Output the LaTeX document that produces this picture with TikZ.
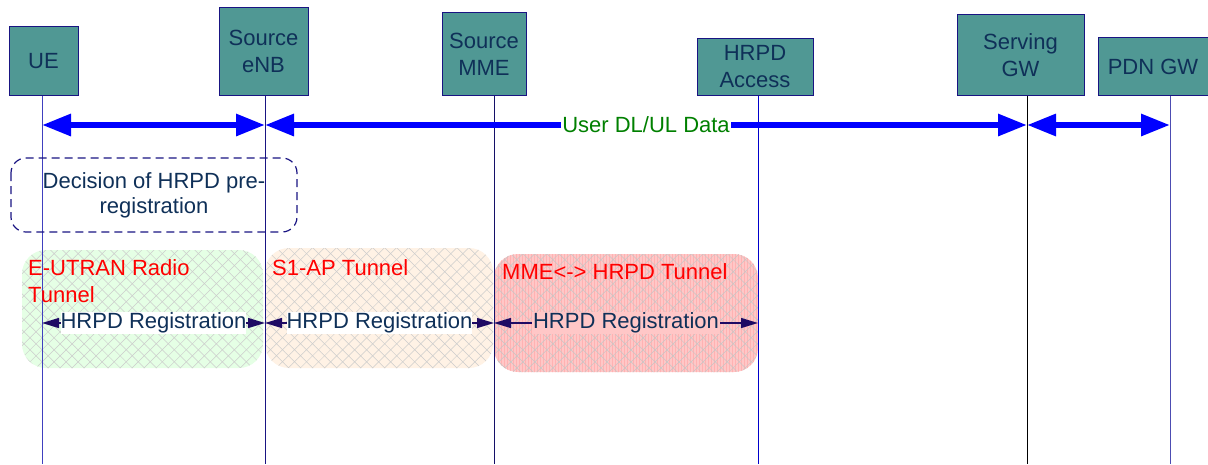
\documentclass[tikz,border=0pt]{standalone}
\usepackage{fontspec}
\setmainfont{Liberation Sans}
\usepackage{xcolor}
\usetikzlibrary{positioning,arrows.meta,patterns.meta,calc}

\definecolor{boxfill}{RGB}{80,152,148}
\definecolor{boxtext}{RGB}{15,48,88}
\definecolor{navy}{RGB}{25,20,130}
\definecolor{regline}{RGB}{30,10,100}
\definecolor{datagreen}{RGB}{0,128,0}

\tikzset{
  entity/.style={draw=navy, line width=1pt, fill=boxfill, text=boxtext, align=center,
                 font=\fontsize{22}{27}\selectfont, anchor=south, inner sep=0pt},
  datalink/.style={blue, line width=6pt, {Triangle[length=29pt,width=21pt]}-{Triangle[length=29pt,width=21pt]}},
  reglink/.style={regline, line width=1.3pt, {Triangle[length=17pt,width=10pt]}-{Triangle[length=17pt,width=10pt]}},
  tunnel/.style={rounded corners=24pt},
  tunnelname/.style={text=red, font=\fontsize{22}{27}\selectfont, anchor=base west, align=left, inner sep=0pt},
  reglabel/.style={text=boxtext, font=\fontsize{22}{27}\selectfont, inner xsep=0pt, inner ysep=1pt}
}

\begin{document}
\begin{tikzpicture}[x=1pt,y=-1pt]
\useasboundingbox (0,0) rectangle (1208,464);

%Entities
\node[entity, minimum width=69pt, minimum height=69pt] (ue)   at (43.5,96)  {UE};
\node[entity, minimum width=89pt, minimum height=88pt] (enb)  at (263.5,96) {Source\\eNB};
\node[entity, minimum width=84pt, minimum height=83pt] (mme)  at (484,96)   {Source\\MME};
\node[entity, minimum width=116pt, minimum height=57pt] (hrpd) at (755,96)  {HRPD\\Access};
\node[entity, minimum width=127pt, minimum height=81pt] (sgw)  at (1020.5,96) {Serving\\GW};
\node[entity, minimum width=110pt, minimum height=58pt] (pdn)  at (1153,96) {PDN GW};

%Lifeline points
\foreach \n/\x in {ue/42,enb/265,mme/494,hrpd/758,sgw/1027,pdn/1170}
{
	\coordinate (\n-top)  at (\x,96);
	\coordinate (\n-data) at (\x,125);
	\coordinate (\n-reg)  at (\x,323);
	\coordinate (\n-bot)  at (\x,464);
}

%Tunnels
\fill[green!10, tunnel] (22,250) rectangle (263,368);
\fill[orange!10, tunnel] (265,248) rectangle (493,368);
\fill[red!22, tunnel] (494,254) rectangle (758,372);
\fill[pattern={Lines[angle=90,distance=3pt,line width=0.4pt]}, pattern color=red!30, tunnel] (494,254) rectangle (758,372);
\foreach \a in {45,-45}
{
	\fill[pattern={Lines[angle=\a,distance=8.5pt,line width=0.5pt]}, pattern color=gray!40, tunnel] (22,250) rectangle (263,368);
	\fill[pattern={Lines[angle=\a,distance=8.5pt,line width=0.5pt]}, pattern color=gray!40, tunnel] (265,248) rectangle (493,368);
	\fill[pattern={Lines[angle=\a,distance=8.5pt,line width=0.5pt]}, pattern color=gray!45, tunnel] (494,254) rectangle (758,372);
}

%Lifelines
\draw[color=blue!50!gray, line width=1pt] (ue-top) -- (ue-bot);
\draw[color=navy, line width=0.8pt] (enb-top) -- (enb-bot);
\draw[color=navy!80!black, line width=1pt] (mme-top) -- (mme-bot);
\draw[color=blue!80!black, line width=0.8pt] (hrpd-top) -- (hrpd-bot);
\draw[color=black, line width=0.8pt] (sgw-top) -- (sgw-bot);
\draw[color=blue!40!gray, line width=1pt] (pdn-top) -- (pdn-bot);

%User data
\draw[datalink] (ue-data) -- (enb-data);
\draw[datalink] (enb-data) -- node[fill=white, text=datagreen, font=\fontsize{22}{27}\selectfont, inner sep=1pt] (datalabel) {User DL/UL Data} (sgw-data);
\draw[datalink] (sgw-data) -- (pdn-data);

%Decision
\draw[navy, line width=1.2pt, dash pattern=on 8pt off 5pt, rounded corners=15pt] (11,158) rectangle (297,232);
\node[text=boxtext, align=center, font=\fontsize{22}{25}\selectfont] (decision) at (154,195) {Decision of HRPD pre-\\registration};

%Tunnel names
\node[tunnelname] (radio) at (28,302) {E-UTRAN Radio\\Tunnel};
\node[tunnelname] (sone) at (272,275) {S1-AP Tunnel};
\node[tunnelname] (mmetun) at (502,279) {MME<-> HRPD Tunnel};

%HRPD registration
\draw[reglink] (ue-reg) -- node[reglabel, fill=white] (regone) {HRPD Registration} (enb-reg);
\draw[reglink] (enb-reg) -- node[reglabel, fill=white] (regtwo) {HRPD Registration} (mme-reg);
\draw[reglink] (mme-reg) -- node[reglabel, fill=red!22, inner xsep=1pt] (regthree) {HRPD Registration} (hrpd-reg);

\end{tikzpicture}
\end{document}
